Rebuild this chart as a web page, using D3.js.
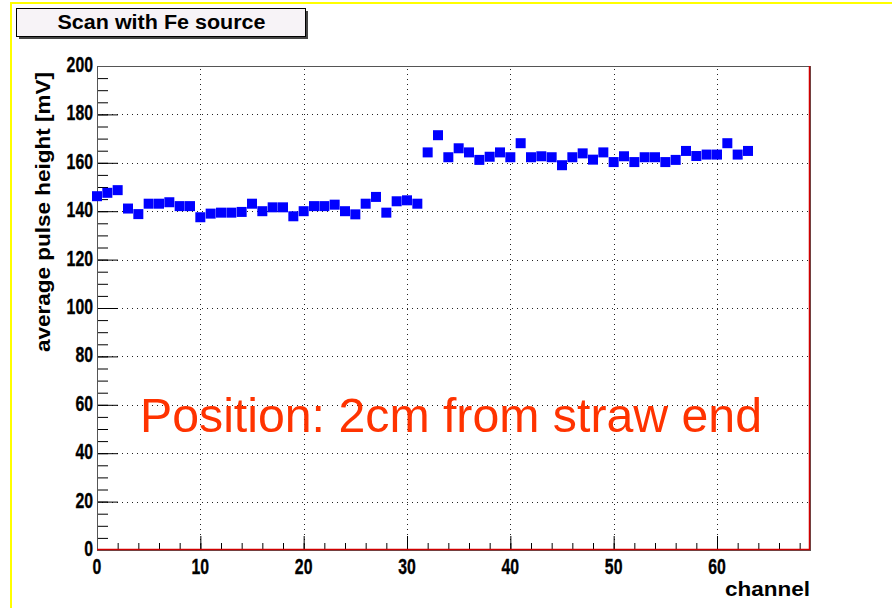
<!DOCTYPE html>
<html>
<head>
<meta charset="utf-8">
<script src="https://cdn.jsdelivr.net/npm/d3@7"></script>
<style>
  html, body { margin: 0; padding: 0; background: #fff; }
  svg { display: block; }
  .tick-label { font-family: "Liberation Sans", Arial, sans-serif; font-weight: bold; font-size: 22px; fill: #000; stroke: #000; stroke-width: 0.35px; }
  .axis-title { font-family: "Liberation Sans", Arial, sans-serif; font-weight: bold; font-size: 21px; fill: #000; }
</style>
</head>
<body>
<script>
// Average pulse height per straw channel, Fe source scan
const channels = [
  0, 1, 2, 3, 4, 5, 6, 7, 8, 9,
  10, 11, 12, 13, 14, 15, 16, 17, 18, 19,
  20, 21, 22, 23, 24, 25, 26, 27, 28, 29,
  30, 31, 32, 33, 34, 35, 36, 37, 38, 39,
  40, 41, 42, 43, 44, 45, 46, 47, 48, 49,
  50, 51, 52, 53, 54, 55, 56, 57, 58, 59,
  60, 61, 62, 63
];
const pulseHeight = [
  146.2, 147.6, 148.7, 141.1, 138.8, 143.1, 143.1, 143.7, 142.1, 142.1,
  137.5, 139.0, 139.4, 139.4, 139.7, 143.1, 140.0, 141.6, 141.6, 137.9,
  140.0, 142.1, 142.1, 142.7, 140.0, 138.7, 143.1, 145.9, 139.4, 144.1,
  144.5, 143.1, 164.3, 171.4, 162.3, 166.0, 164.3, 161.2, 162.5, 164.3,
  162.3, 168.1, 162.3, 162.7, 162.3, 159.0, 162.3, 163.9, 161.3, 164.3,
  160.3, 162.7, 160.3, 162.3, 162.3, 160.3, 161.2, 164.9, 162.8, 163.4,
  163.4, 168.1, 163.4, 164.9
];
const xMajorTicks = [0, 10, 20, 30, 40, 50, 60];
const yMajorTicks = [0, 20, 40, 60, 80, 100, 120, 140, 160, 180, 200];
const xDomain = [0, 69];
const yDomain = [0, 200];
const titleText = "Scan with Fe source";
const xLabel = "channel";
const yLabel = "average pulse height [mV]";
const noteText = "Position: 2cm from straw end";

const W = 892, H = 608;
const frame = { left: 97, top: 66, right: 810, bottom: 550 };
const digitWidth = 8.8; // condensed bold digits

const svg = d3.select("body").append("svg")
  .attr("width", W).attr("height", H);

svg.append("rect").attr("width", W).attr("height", H).attr("fill", "#fff");

// canvas border (yellow, top and left)
svg.append("path")
  .attr("d", `M11,${H} L11,3 L${W},3`)
  .attr("fill", "none").attr("stroke", "#ffff00").attr("stroke-width", 2);

const x = d3.scaleLinear().domain(xDomain).range([frame.left, frame.right]);
const y = d3.scaleLinear().domain(yDomain).range([frame.bottom, frame.top]);

// grid
const grid = svg.append("g").attr("stroke", "#222").attr("stroke-width", 1)
  .attr("stroke-dasharray", "1,4");
grid.selectAll("line.gx").data(xMajorTicks.filter(d => d > xDomain[0]))
  .join("line").attr("class", "gx")
  .attr("x1", d => Math.round(x(d)) + 0.5).attr("x2", d => Math.round(x(d)) + 0.5)
  .attr("y1", frame.bottom).attr("y2", frame.top);
grid.selectAll("line.gy").data(yMajorTicks.filter(d => d > yDomain[0] && d < yDomain[1]))
  .join("line").attr("class", "gy")
  .attr("y1", d => Math.round(y(d)) + 0.5).attr("y2", d => Math.round(y(d)) + 0.5)
  .attr("x1", frame.left).attr("x2", frame.right);

// x axis: ticks drawn upward into the frame
const xAxisMinor = d3.axisTop(x).tickValues(d3.range(2, 69, 2)).tickSize(7).tickFormat("");
const xAxisMajor = d3.axisTop(x).tickValues(xMajorTicks).tickSize(14).tickFormat("");
[xAxisMinor, xAxisMajor].forEach(ax => {
  const g = svg.append("g").attr("transform", `translate(0,${frame.bottom})`).call(ax);
  g.select(".domain").remove();
  g.selectAll(".tick line").attr("stroke", "#000");
});
svg.append("g").selectAll("text").data(xMajorTicks).join("text")
  .attr("class", "tick-label")
  .attr("x", d => x(d)).attr("y", frame.bottom + 24)
  .attr("text-anchor", "middle")
  .attr("textLength", d => String(d).length * digitWidth)
  .attr("lengthAdjust", "spacingAndGlyphs")
  .text(d => d);

// y axis: ticks drawn rightward into the frame
const yAxisMinor = d3.axisRight(y).tickValues(d3.range(5, 200, 5)).tickSize(11).tickFormat("");
const yAxisMajor = d3.axisRight(y).tickValues(yMajorTicks).tickSize(21).tickFormat("");
[yAxisMinor, yAxisMajor].forEach(ax => {
  const g = svg.append("g").attr("transform", `translate(${frame.left},0)`).call(ax);
  g.select(".domain").remove();
  g.selectAll(".tick line").attr("stroke", "#000");
});
svg.append("g").selectAll("text").data(yMajorTicks).join("text")
  .attr("class", "tick-label")
  .attr("x", frame.left - 4).attr("y", d => y(d) + 6)
  .attr("text-anchor", "end")
  .attr("textLength", d => String(d).length * digitWidth)
  .attr("lengthAdjust", "spacingAndGlyphs")
  .text(d => d);

// frame
svg.append("rect")
  .attr("x", frame.left + 0.5).attr("y", frame.top + 0.5)
  .attr("width", frame.right - frame.left).attr("height", frame.bottom - frame.top)
  .attr("fill", "none").attr("stroke", "#555").attr("stroke-width", 1);
svg.append("path")
  .attr("d", `M${frame.left},${frame.bottom - 0.5} L${frame.right - 0.5},${frame.bottom - 0.5} L${frame.right - 0.5},${frame.top}`)
  .attr("fill", "none").attr("stroke", "#d00000").attr("stroke-width", 1.5);

// markers
const data = channels.map((c, i) => ({ c, v: pulseHeight[i] }));
const ms = 10;
svg.append("g").selectAll("rect").data(data).join("rect")
  .attr("x", d => x(d.c) - ms / 2).attr("y", d => y(d.v) - ms / 2)
  .attr("width", ms).attr("height", ms)
  .attr("fill", "#0000ff");

// annotation inside the frame
svg.append("text")
  .attr("x", 140).attr("y", 432)
  .attr("textLength", 622).attr("lengthAdjust", "spacingAndGlyphs")
  .attr("font-family", "'Liberation Sans', Arial, sans-serif")
  .attr("font-size", 48).attr("fill", "#ff3300")
  .text(noteText);

// axis titles
svg.append("text").attr("class", "axis-title")
  .attr("x", frame.right).attr("y", 596)
  .attr("text-anchor", "end")
  .attr("textLength", 85).attr("lengthAdjust", "spacingAndGlyphs")
  .text(xLabel);
svg.append("text").attr("class", "axis-title")
  .attr("transform", `translate(50,${frame.top + 6}) rotate(-90)`)
  .attr("text-anchor", "end")
  .attr("textLength", 280).attr("lengthAdjust", "spacingAndGlyphs")
  .text(yLabel);

// title box with drop shadow
const tb = { x: 16, y: 8, w: 289, h: 28 };
svg.append("rect").attr("x", tb.x + 3).attr("y", tb.y + 3).attr("width", tb.w).attr("height", tb.h)
  .attr("fill", "#444");
svg.append("rect").attr("x", tb.x + 0.5).attr("y", tb.y + 0.5).attr("width", tb.w).attr("height", tb.h)
  .attr("fill", "#f7f3f7").attr("stroke", "#000").attr("stroke-width", 1);
svg.append("text")
  .attr("x", tb.x + tb.w / 2 + 1).attr("y", tb.y + tb.h / 2 + 7)
  .attr("text-anchor", "middle")
  .attr("font-family", "'Liberation Sans', Arial, sans-serif")
  .attr("font-weight", "bold").attr("font-size", 20)
  .attr("textLength", 208).attr("lengthAdjust", "spacingAndGlyphs")
  .text(titleText);
</script>
</body>
</html>
